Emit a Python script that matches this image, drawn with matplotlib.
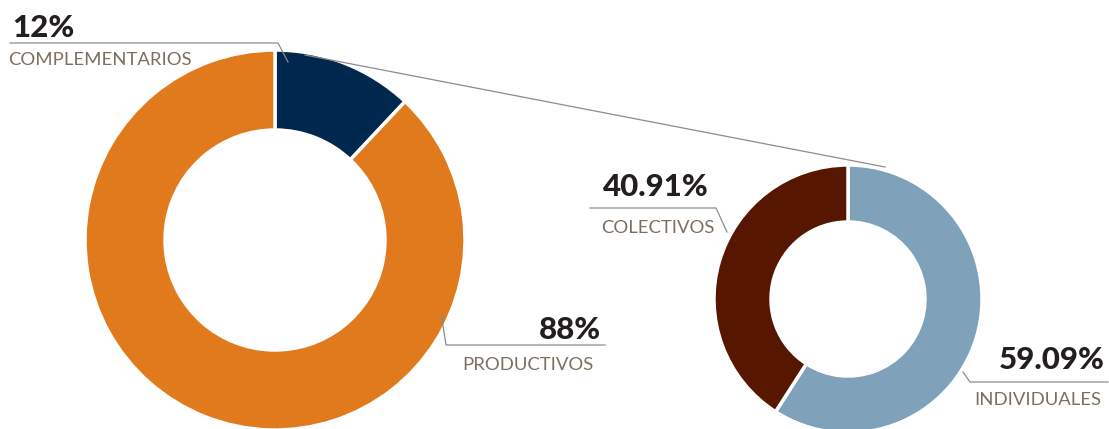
import matplotlib.pyplot as plt

# data
main_labels = ['COMPLEMENTARIOS', 'PRODUCTIVOS']
main_values = [12, 88]
main_colors = ['#00274d', '#e07a1c']

sub_labels = ['INDIVIDUALES', 'COLECTIVOS']
sub_values = [59.09, 40.91]
sub_colors = ['#7fa1ba', '#561600']

H = 429
W = 1109

def y(p):
    # pixel row -> data y
    return H - p

fig = plt.figure(figsize=(W / 100, H / 100), dpi=100)
ax = fig.add_axes([0, 0, 1, 1])

# big donut
ax.pie(main_values, colors=main_colors, startangle=90, counterclock=False,
       center=(275, y(240)), radius=190, frame=True,
       wedgeprops=dict(width=80, edgecolor='white', linewidth=2.5))
# small donut
ax.pie(sub_values, colors=sub_colors, startangle=90, counterclock=False,
       center=(848, y(299)), radius=134, frame=True,
       wedgeprops=dict(width=57, edgecolor='white', linewidth=2.5))

ax.set_xlim(0, W)
ax.set_ylim(0, H)
ax.set_aspect('equal')
ax.axis('off')

line_c = '#8c8c8c'
pct_c = '#231f20'
lab_c = '#7d6e5e'
pct_kw = dict(fontsize=22.5, fontweight='black', color=pct_c, family='Lato')
lab_kw = dict(fontsize=13.3, color=lab_c, family='Lato')

# connector between donuts
ax.plot([305, 885], [y(55), y(167)], color=line_c, lw=0.9)

# COMPLEMENTARIOS
ax.plot([10, 278, 288], [y(43), y(43), y(62)], color=line_c, lw=0.9)
ax.text(12, y(37), f'{main_values[0]:g}%', ha='left', va='baseline', **pct_kw)
ax.text(8, y(65), main_labels[0], ha='left', va='baseline', **lab_kw)

# PRODUCTIVOS
ax.plot([441, 446, 605], [y(313), y(345), y(345)], color=line_c, lw=0.9)
ax.text(601, y(339), f'{main_values[1]:g}%', ha='right', va='baseline', **pct_kw)
ax.text(593, y(370), main_labels[1], ha='right', va='baseline', **lab_kw)

# COLECTIVOS
ax.plot([590, 716, 727], [y(208), y(208), y(232)], color=line_c, lw=0.9)
ax.text(709, y(196), f'{sub_values[1]:.2f}%', ha='right', va='baseline', **pct_kw)
ax.text(715, y(233), sub_labels[1], ha='right', va='baseline', **lab_kw)

# INDIVIDUALES
ax.plot([963, 970, 1108], [y(372), y(382), y(382)], color=line_c, lw=0.9)
ax.text(1105, y(369), f'{sub_values[0]:.2f}%', ha='right', va='baseline', **pct_kw)
ax.text(1101, y(405), sub_labels[0], ha='right', va='baseline', **lab_kw)

plt.savefig('out.png', dpi=100)
